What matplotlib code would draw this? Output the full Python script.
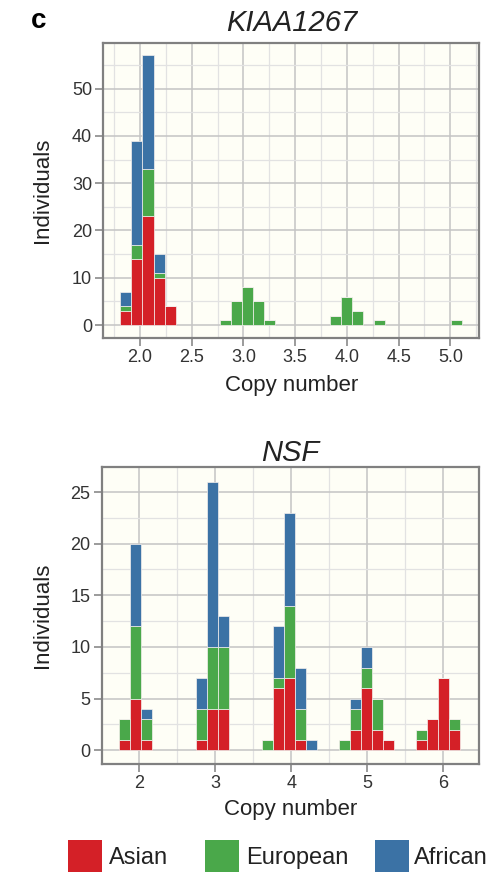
import matplotlib
matplotlib.use("Agg")
import matplotlib.pyplot as plt
import numpy as np
from matplotlib.patches import Rectangle
from matplotlib.ticker import MultipleLocator

plt.rcParams['font.family'] = ['Liberation Sans', 'DejaVu Sans']

# colours
RED = '#d42027'
GREEN = '#4aa84a'
BLUE = '#3b72a5'

# KIAA1267 histogram (bin centres, counts per population)
kiaa_width = 0.1067
kiaa_centers = [1.863, 1.970, 2.077, 2.184, 2.290, 2.824, 2.930, 3.037, 3.144, 3.250,
                3.891, 3.997, 4.104, 4.317, 5.064]
kiaa_asian = [3, 14, 23, 10, 4, 0, 0, 0, 0, 0, 0, 0, 0, 0, 0]
kiaa_european = [1, 3, 10, 1, 0, 1, 5, 8, 5, 1, 2, 6, 3, 1, 1]
kiaa_african = [3, 22, 24, 4, 0, 0, 0, 0, 0, 0, 0, 0, 0, 0, 0]

# NSF histogram
nsf_width = 0.1447
nsf_centers = [1.805, 1.950, 2.095, 2.818, 2.963, 3.108, 3.687, 3.831, 3.976, 4.121,
               4.265, 4.699, 4.844, 4.989, 5.133, 5.278, 5.712, 5.857, 6.001, 6.146]
nsf_asian = [1, 5, 1, 1, 4, 4, 0, 6, 7, 1, 0, 0, 2, 6, 2, 1, 1, 3, 7, 2]
nsf_european = [2, 7, 2, 3, 6, 6, 1, 1, 7, 3, 0, 1, 2, 2, 3, 0, 1, 0, 0, 1]
nsf_african = [0, 8, 1, 3, 16, 3, 0, 5, 9, 4, 1, 0, 1, 2, 0, 0, 0, 0, 0, 0]

legend_labels = ['Asian', 'European', 'African']


def stacked(ax, centers, width, asian, european, african):
    a = np.array(asian)
    e = np.array(european)
    f = np.array(african)
    kw = dict(width=width, edgecolor='#f4f0ee', linewidth=0.5, zorder=3)
    ax.bar(centers, a, color=RED, **kw)
    ax.bar(centers, e, bottom=a, color=GREEN, **kw)
    ax.bar(centers, f, bottom=a + e, color=BLUE, **kw)


def style(ax, title, xmaj, xmin, ymaj, ymin, tpad, xpad):
    ax.set_facecolor('#fefef6')
    ax.xaxis.set_major_locator(MultipleLocator(xmaj))
    ax.xaxis.set_minor_locator(MultipleLocator(xmin))
    ax.yaxis.set_major_locator(MultipleLocator(ymaj))
    ax.yaxis.set_minor_locator(MultipleLocator(ymin))
    ax.grid(which='major', color='#c4c4c4', linewidth=1.1, zorder=0)
    ax.grid(which='minor', color='#e2e2e2', linewidth=0.9, zorder=0)
    ax.set_axisbelow(True)
    for s in ax.spines.values():
        s.set_color('#808080')
        s.set_linewidth(1.6)
    ax.tick_params(which='major', direction='out', length=6, width=1.1,
                   color='#808080', labelsize=13, labelcolor='#333333', pad=2)
    ax.tick_params(which='minor', length=0)
    ax.set_title(title, fontsize=21, style='italic', color='#222222', pad=tpad)
    ax.set_xlabel('Copy number', fontsize=16, color='#222222', labelpad=xpad)
    ax.set_ylabel('Individuals', fontsize=16, color='#222222')


fig = plt.figure(figsize=(5.02, 8.72), dpi=100)

ax1 = fig.add_axes([0.2058, 0.612, 0.749, 0.339])
stacked(ax1, kiaa_centers, kiaa_width, kiaa_asian, kiaa_european, kiaa_african)
style(ax1, 'KIAA1267', 0.5, 0.25, 10, 5, 8.5, 6.5)
ax1.set_xlim(1.645, 5.28)
ax1.set_ylim(-2.8, 59.7)
ax1.set_xticks([2.0, 2.5, 3.0, 3.5, 4.0, 4.5, 5.0])
ax1.set_xticklabels(['2.0', '2.5', '3.0', '3.5', '4.0', '4.5', '5.0'])
ax1.yaxis.set_label_coords(-0.134, 0.5)

ax2 = fig.add_axes([0.2026, 0.1239, 0.7516, 0.3403])
stacked(ax2, nsf_centers, nsf_width, nsf_asian, nsf_european, nsf_african)
style(ax2, 'NSF', 1, 0.5, 5, 2.5, 3, 5)
ax2.set_xlim(1.505, 6.47)
ax2.set_ylim(-1.33, 27.4)
ax2.yaxis.set_label_coords(-0.129, 0.5)

fig.text(0.076, 0.976, 'c', fontsize=20, fontweight='bold', ha='center', va='center')

# legend boxes along the bottom
box_x = [68, 205, 375]
txt_x = [109, 246, 414]
for bx, tx, col, lab in zip(box_x, txt_x, [RED, GREEN, BLUE], legend_labels):
    fig.add_artist(Rectangle((bx / 502, 0), 34 / 502, 32 / 872, transform=fig.transFigure,
                             facecolor=col, edgecolor='none'))
    fig.text(tx / 502, 14 / 872, lab, fontsize=17, color='#222222', ha='left', va='center')

fig.savefig('out.png', dpi=100)
